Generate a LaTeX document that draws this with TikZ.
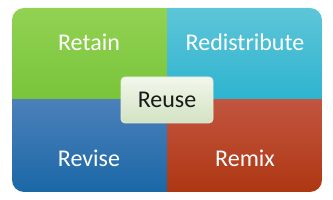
\documentclass[tikz,border=0pt]{standalone}
\usepackage{fontspec}
\setmainfont{Carlito}
\usetikzlibrary{positioning}

\definecolor{retaintop}{HTML}{92D253}
\definecolor{retainbot}{HTML}{78C43A}
\definecolor{redisttop}{HTML}{5EC5D8}
\definecolor{redistbot}{HTML}{2DB4CF}
\definecolor{revisetop}{HTML}{4C80BA}
\definecolor{revisebot}{HTML}{1A68A6}
\definecolor{remixtop}{HTML}{C25540}
\definecolor{remixbot}{HTML}{AE3712}
\definecolor{reusetop}{HTML}{F2F7EC}
\definecolor{reusebot}{HTML}{D2E2C2}
\definecolor{reuseline}{HTML}{E4ECDA}

\tikzset{
    label4r/.style={text=white, font=\fontsize{24}{27}\selectfont, anchor=base},
    centerbox/.style={draw=reuseline, line width=0.8pt, rounded corners=4pt,
        top color=reusetop, bottom color=reusebot,
        minimum width=92pt, minimum height=46pt, inner sep=0pt,
        font=\fontsize{24}{27}\selectfont, text=black!90}
}

\begin{document}
\begin{tikzpicture}[x=1pt,y=1pt]
    \useasboundingbox (0,0) rectangle (333,200);
    \begin{scope}
        \clip[rounded corners=12pt] (12,8) rectangle (322,192);
        \shade[top color=retaintop, bottom color=retainbot] (12,100) rectangle (167,192);
        \shade[top color=redisttop, bottom color=redistbot] (167,100) rectangle (322,192);
        \shade[top color=revisetop, bottom color=revisebot] (12,8) rectangle (167,100);
        \shade[top color=remixtop, bottom color=remixbot] (167,8) rectangle (322,100);
    \end{scope}
    \node[label4r] (retain) at (89,149) {Retain};
    \node[label4r] (redistribute) at (245,149) {Redistribute};
    \node[label4r] (revise) at (89,33) {Revise};
    \node[label4r] (remix) at (245,33) {Remix};
    \node[centerbox] (reuse) at (167,100) {Reuse};
\end{tikzpicture}
\end{document}
